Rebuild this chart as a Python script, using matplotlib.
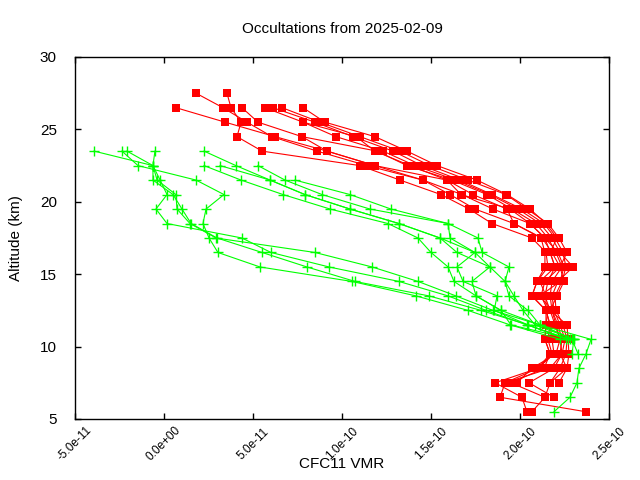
import numpy as np
import matplotlib
matplotlib.use("Agg")
import matplotlib.pyplot as plt
from matplotlib.ticker import FuncFormatter

plt.rcParams['font.family'] = ['Liberation Sans', 'DejaVu Sans']

# ---- data (VMR in units of 1e-10, altitude in km) ----
red_tops = [27.5, 27.5, 26.5, 26.5, 26.5, 26.5, 26.5, 26.5, 24.5, 25.5]
red_profiles = [
    [0.180, 0.331, 0.466, 0.607, 0.860, 1.140, 1.455, 1.674, 1.848, 2.056, 2.140, 2.169, 2.197, 2.157, 2.140, 2.169, 2.197, 2.225, 2.236, 2.169, 1.916, 1.888, 2.371],
    [0.354, 0.376, 0.433, 0.410, 0.551, 1.101, 1.326, 1.556, 1.714, 1.843, 2.067, 2.146, 2.157, 2.096, 2.067, 2.146, 2.169, 2.157, 2.180, 2.101, 1.860, 2.011, 2.039],
    [0.067, 0.343, 0.624, 0.916, 1.185, 1.590, 1.736, 1.927, 1.966, 2.124, 2.180, 2.225, 2.140, 2.118, 2.157, 2.146, 2.140, 2.169, 2.135, 1.949, 2.140, 2.067],
    [0.438, 0.528, 0.775, 1.197, 1.365, 1.618, 1.815, 1.955, 2.090, 2.157, 2.202, 2.236, 2.180, 2.169, 2.180, 2.202, 2.225, 2.202, 2.067, 1.983],
    [0.567, 0.781, 0.966, 1.230, 1.410, 1.640, 1.831, 1.989, 2.112, 2.180, 2.225, 2.298, 2.213, 2.180, 2.191, 2.225, 2.253, 2.236, 2.191, 2.051, 2.191],
    [0.612, 0.848, 1.062, 1.287, 1.449, 1.663, 1.843, 2.011, 2.135, 2.197, 2.242, 2.258, 2.236, 2.197, 2.202, 2.242, 2.264, 2.258, 2.225, 2.169],
    [0.663, 0.876, 1.101, 1.326, 1.494, 1.708, 1.921, 2.039, 2.157, 2.219, 2.264, 2.225, 2.247, 2.208, 2.169, 2.264, 2.270, 2.275, 2.264, 2.219],
    [0.781, 0.904, 1.185, 1.365, 1.534, 1.758, 1.927, 2.056, 2.146, 2.208, 2.169, 2.197, 2.112, 2.146, 2.146, 2.169, 2.180, 2.191, 2.101],
    [0.775, 0.916, 1.185, 1.455, 1.607, 1.747, 1.966, 2.118, 2.140, 2.140, 2.096, 2.067, 2.146, 2.146, 2.140, 2.169, 2.101, 1.916],
    [0.781, 1.079, 1.185, 1.382, 1.590, 1.669, 1.944, 2.056, 2.140, 2.213, 2.247, 2.225, 2.112, 2.180, 2.213, 2.236, 2.225, 2.264, 2.169, 2.140],
]

green_tops = [23.5, 23.5, 23.5, 23.5, 23.5, 22.5, 22.5, 21.5, 22.5]
green_profiles = [
    [-0.393, -0.062, -0.062, 0.051, 0.101, 0.152, 0.298, 0.551, 0.803, 1.073, 1.489, 1.781, 2.045, 2.258],
    [-0.236, -0.146, 0.180, 0.337, 0.236, 0.219, 0.253, 0.303, 0.539, 1.056, 1.416, 1.708, 1.944, 2.225],
    [-0.208, -0.062, -0.022, 0.017, -0.045, 0.017, 0.438, 0.601, 0.927, 1.320, 1.596, 1.809, 2.039, 2.281],
    [-0.051, -0.062, -0.039, 0.067, 0.073, 0.146, 0.292, 0.848, 1.169, 1.427, 1.640, 1.848, 2.112, 2.298],
    [0.225, 0.404, 0.596, 0.792, 1.045, 1.320, 1.551, 1.646, 1.831, 1.916, 1.966, 2.017, 2.084, 2.303, 2.292],
    [0.225, 0.433, 0.669, 0.933, 1.258, 1.427, 1.500, 1.596, 1.629, 1.753, 1.893, 1.949, 2.292, 2.326],
    [0.528, 0.680, 0.888, 1.157, 1.596, 1.764, 1.787, 1.938, 1.916, 1.938, 2.045, 2.112, 2.399, 2.371, 2.331, 2.320, 2.281, 2.191],
    [0.736, 1.045, 1.275, 1.596, 1.607, 1.747, 1.646, 1.680, 1.871, 1.855, 2.045, 2.270],
    [0.315, 0.596, 0.792, 1.045, 1.320, 1.551, 1.747, 1.831, 1.730, 1.753, 1.893, 2.112, 2.303],
]

xticks = [-5e-11, 0.0, 5e-11, 1e-10, 1.5e-10, 2e-10, 2.5e-10]
yticks = [5, 10, 15, 20, 25, 30]

fig = plt.figure(figsize=(6.4, 4.8), dpi=100)
ax = fig.add_axes([75/640, 61/480, 534/640, 362/480])

def alts(top, n):
    return top - np.arange(n) * 1.0

for top, prof in zip(red_tops, red_profiles):
    ax.plot(np.array(prof) * 1e-10, alts(top, len(prof)), color='#ff0000',
            lw=0.8, marker='s', ms=5.8, mec='#ff0000', mfc='#ff0000', mew=0)

for top, prof in zip(green_tops, green_profiles):
    ax.plot(np.array(prof) * 1e-10, alts(top, len(prof)), color='#00ff00',
            lw=0.8, marker='+', ms=6.5, mew=1.0)

ax.set_xlim(xticks[0], xticks[-1])
ax.set_ylim(yticks[0], yticks[-1])
ax.set_xticks(xticks)
ax.set_yticks(yticks)
ax.xaxis.set_major_formatter(FuncFormatter(lambda v, p: "%.1e" % v))
ax.tick_params(direction='in', length=4, width=1, top=True, right=True,
               labelsize=11)
ax.tick_params(axis='y', pad=13)
ax.tick_params(axis='x', pad=18, labelsize=8.5)
for lab in ax.get_xticklabels():
    lab.set_rotation(45)
    lab.set_rotation_mode('anchor')
    lab.set_ha('center')
    lab.set_va('center')
for s in ax.spines.values():
    s.set_linewidth(1.0)

fig.text(342/640, 1 - 464/480, 'CFC11 VMR', fontsize=11, ha='center', va='center')
ax.set_ylabel('Altitude (km)', fontsize=11, labelpad=12)
ax.set_title('Occultations from 2025-02-09', fontsize=11, pad=17)

fig.savefig('out.png', dpi=100)
